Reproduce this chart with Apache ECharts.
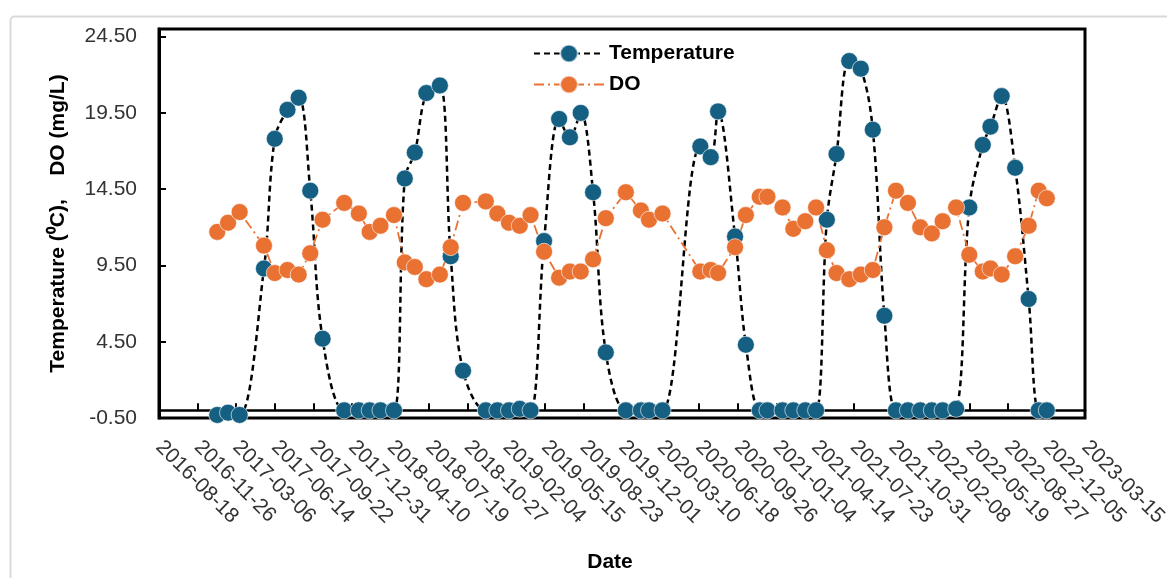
<!DOCTYPE html>
<html>
<head>
<meta charset="utf-8">
<title>Temperature and DO</title>
<script src="https://cdn.jsdelivr.net/npm/echarts@6/dist/echarts.min.js"></script>
<style>
  html, body { margin: 0; padding: 0; background: #fff; }
  #chart { width: 1167px; height: 578px; }
</style>
</head>
<body>
<div id="chart"></div>
<script>
// sampling dates (shared by both series)
const sampleDates = [
  '2017-01-16', '2017-02-13', '2017-03-15', '2017-05-17', '2017-06-14', '2017-07-17', '2017-08-15', '2017-09-14', '2017-10-16', '2017-12-11',
  '2018-01-18', '2018-02-15', '2018-03-15', '2018-04-19', '2018-05-17', '2018-06-12', '2018-07-12', '2018-08-16', '2018-09-13', '2018-10-15',
  '2018-12-13', '2019-01-12', '2019-02-11', '2019-03-11', '2019-04-08', '2019-05-13', '2019-06-21', '2019-07-19', '2019-08-16', '2019-09-17',
  '2019-10-20', '2019-12-11', '2020-01-19', '2020-02-09', '2020-03-15', '2020-06-21', '2020-07-18', '2020-08-06', '2020-09-19', '2020-10-17',
  '2020-11-22', '2020-12-12', '2021-01-20', '2021-02-17', '2021-03-20', '2021-04-17', '2021-05-15', '2021-06-09', '2021-07-12', '2021-08-11',
  '2021-09-11', '2021-10-11', '2021-11-10', '2021-12-11', '2022-01-12', '2022-02-11', '2022-03-11', '2022-04-15', '2022-05-19', '2022-06-23',
  '2022-07-13', '2022-08-11', '2022-09-15', '2022-10-20', '2022-11-15', '2022-12-06'
];

// water temperature, degC
const temperature = [
  -0.3, -0.15, -0.3, 9.3, 17.8, 19.7, 20.5, 14.4, 4.7, 0.0,
  0.0, 0.0, 0.0, 0.0, 15.2, 16.9, 20.8, 21.3, 10.1, 2.6,
  0.0, 0.0, 0.0, 0.1, 0.0, 11.1, 19.1, 17.9, 19.5, 14.3,
  3.8, 0.0, 0.0, 0.0, 0.0, 17.3, 16.6, 19.6, 11.4, 4.3,
  0.0, 0.0, 0.0, 0.0, 0.0, 0.0, 12.5, 16.8, 22.9, 22.4,
  18.4, 6.2, 0.0, 0.0, 0.0, 0.0, 0.0, 0.1, 13.3, 17.4,
  18.6, 20.6, 15.9, 7.3, 0.0, 0.0
];

// dissolved oxygen, mg/L
const dissolvedOxygen = [
  11.7, 12.3, 13.0, 10.8, 9.0, 9.2, 8.9, 10.3, 12.5, 13.6,
  12.9, 11.7, 12.1, 12.8, 9.7, 9.4, 8.6, 8.9, 10.7, 13.6,
  13.7, 12.9, 12.3, 12.1, 12.8, 10.4, 8.7, 9.1, 9.1, 9.9,
  12.6, 14.3, 13.1, 12.5, 12.9, 9.1, 9.2, 9.0, 10.7, 12.8,
  14.0, 14.0, 13.3, 11.9, 12.4, 13.3, 10.5, 9.0, 8.6, 8.9,
  9.2, 12.0, 14.4, 13.6, 12.0, 11.6, 12.4, 13.3, 10.2, 9.1,
  9.3, 8.9, 10.1, 12.1, 14.4, 13.9
];

// axis ticks
const xAxisStart = '2016-08-18';
const xAxisEnd = '2023-03-15';
const xTickDays = 100;
const yAxisMin = -0.5;
const yAxisMax = 25;
const yTickStep = 5;

const DAY = 86400000;
const toMs = (s) => Date.parse(s + 'T00:00:00Z');

function fmtDate(ms) {
  const d = new Date(ms);
  const mm = String(d.getUTCMonth() + 1).padStart(2, '0');
  const dd = String(d.getUTCDate()).padStart(2, '0');
  return d.getUTCFullYear() + '-' + mm + '-' + dd;
}

const tempData = sampleDates.map((s, i) => [toMs(s), temperature[i]]);
const doData = sampleDates.map((s, i) => [toMs(s), dissolvedOxygen[i]]);

const tickFont = 'Liberation Sans, Arial, sans-serif';
const titleFont = 'Liberation Sans, Arial, sans-serif';

const chart = echarts.init(document.getElementById('chart'));

chart.setOption({
  animation: false,
  graphic: [{
    type: 'rect',
    left: 8, top: 14,
    shape: { width: 1200, height: 620, r: 4 },
    style: { fill: 'none', stroke: '#d9d9d9', lineWidth: 2 },
    silent: true
  }],
  grid: {
    left: 159, right: 82, top: 29, bottom: 160,
    outerBoundsMode: 'none',
    show: true, borderColor: '#000', borderWidth: 3, backgroundColor: 'transparent'
  },
  legend: {
    orient: 'vertical',
    left: 528, top: 38,
    itemWidth: 70, itemHeight: 22, itemGap: 10,
    textStyle: { fontFamily: titleFont, fontSize: 21, fontWeight: 'bold', color: '#000' },
    data: ['Temperature', 'DO']
  },
  xAxis: {
    type: 'value',
    min: toMs(xAxisStart),
    max: toMs(xAxisEnd),
    interval: xTickDays * DAY,
    name: 'Date',
    nameLocation: 'middle',
    nameGap: 134,
    nameTextStyle: { fontFamily: titleFont, fontSize: 21, fontWeight: 'bold', color: '#000', padding: [0, 24, 0, 0] },
    axisLine: { onZero: true, lineStyle: { color: '#000', width: 2.5 } },
    axisTick: { inside: true, length: 7, lineStyle: { color: '#000', width: 2 } },
    axisLabel: {
      rotate: -45, margin: 26,
      fontFamily: tickFont, fontSize: 21, color: '#333',
      formatter: (v) => fmtDate(v)
    },
    splitLine: { show: false }
  },
  yAxis: {
    type: 'value',
    min: yAxisMin,
    max: yAxisMax,
    interval: yTickStep,
    name: 'Temperature (\u2070C),    DO (mg/L)',
    nameLocation: 'middle',
    nameGap: 90,
    nameTextStyle: { fontFamily: titleFont, fontSize: 21, fontWeight: 'bold', color: '#000' },
    axisLine: { show: true, lineStyle: { color: '#000', width: 3 } },
    axisTick: { show: true, inside: true, length: 7, lineStyle: { color: '#000', width: 2 } },
    axisLabel: {
      margin: 22, showMaxLabel: false,
      fontFamily: tickFont, fontSize: 21, color: '#333',
      formatter: (v) => v.toFixed(2)
    },
    splitLine: { show: false }
  },
  series: [
    {
      name: 'Temperature',
      type: 'line',
      data: tempData,
      smooth: 0.35,
      symbol: 'circle',
      symbolSize: 17,
      lineStyle: { color: '#000', width: 2.5, type: [6, 4] },
      itemStyle: { color: '#156082', borderColor: 'rgba(255,255,255,0.6)', borderWidth: 1 }
    },
    {
      name: 'DO',
      type: 'line',
      data: doData,
      symbol: 'circle',
      symbolSize: 17,
      lineStyle: { color: '#E97132', width: 1.8, type: [10, 4, 2, 4] },
      itemStyle: { color: '#E97132', borderColor: 'rgba(255,255,255,0.6)', borderWidth: 1 }
    }
  ]
});
</script>
</body>
</html>
